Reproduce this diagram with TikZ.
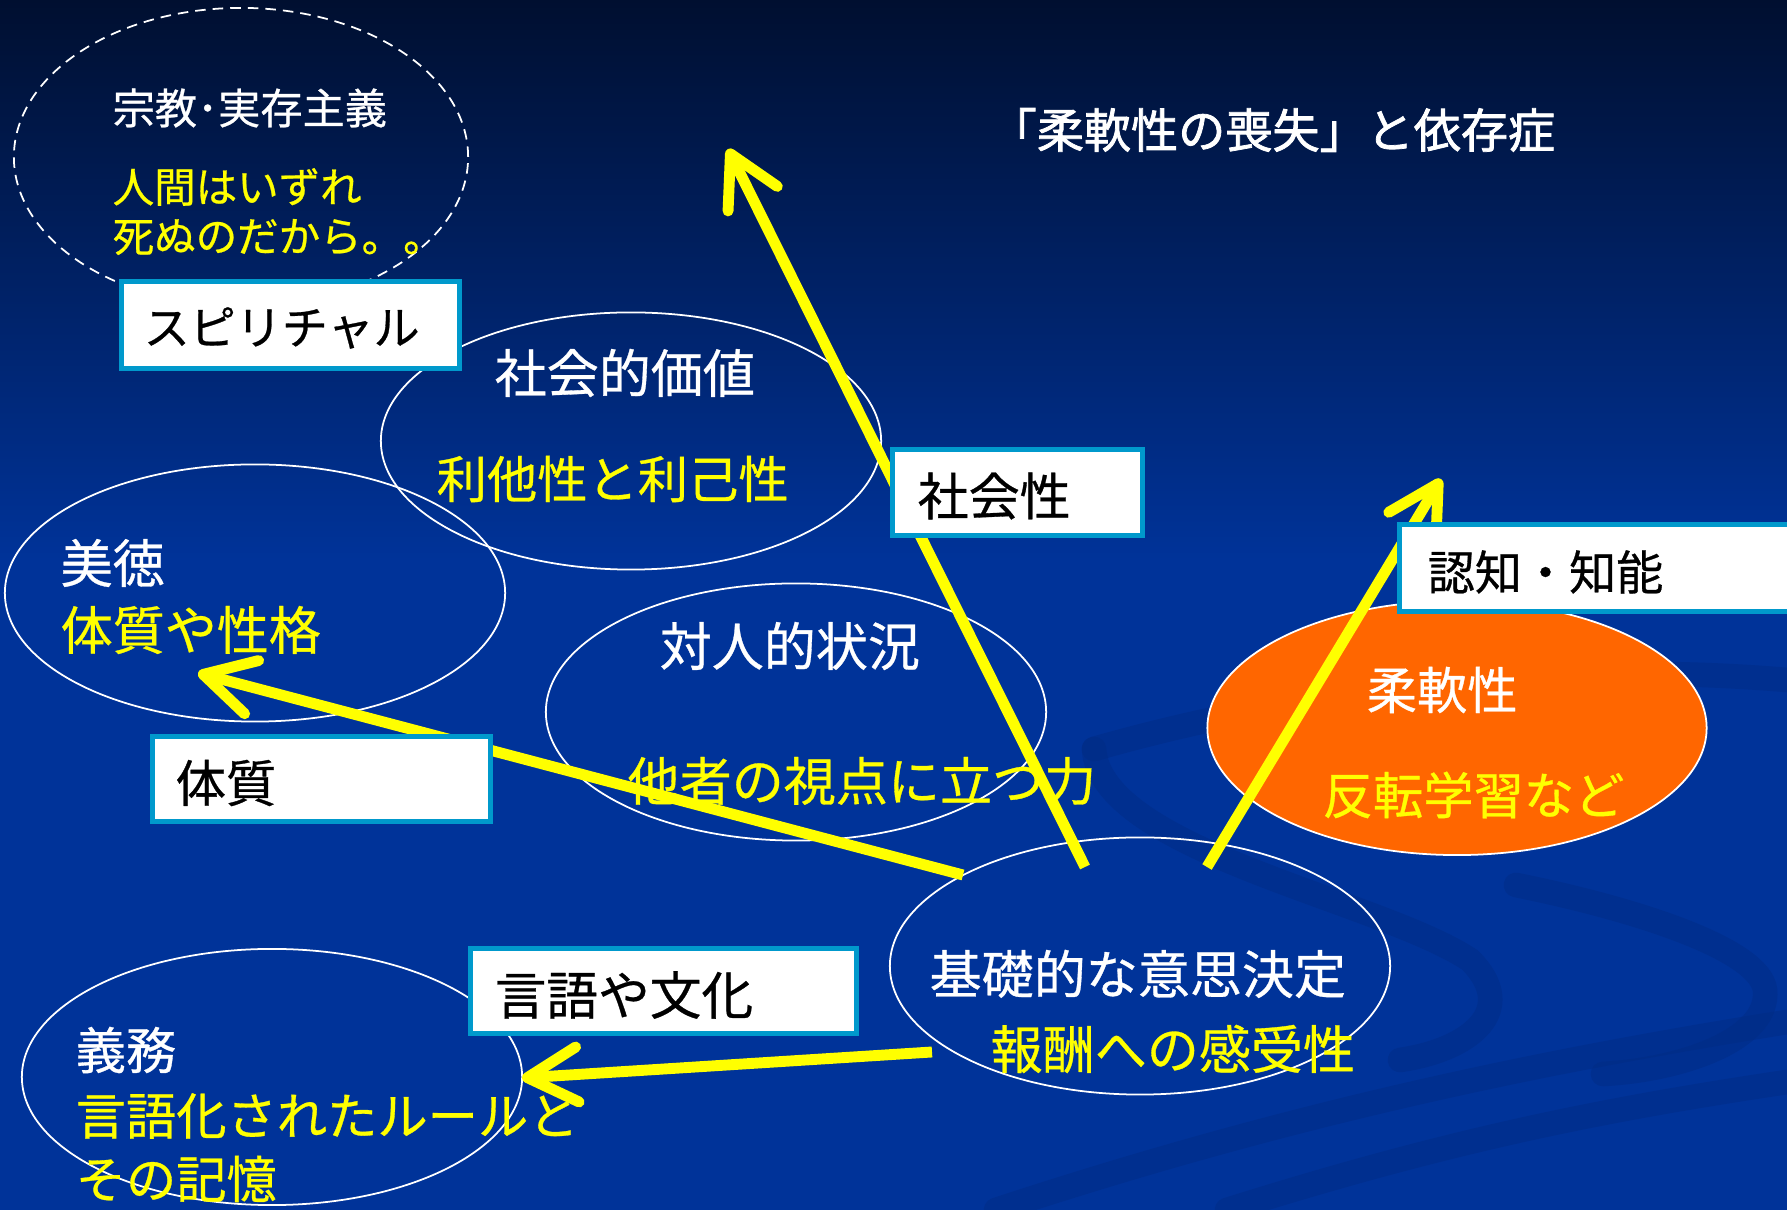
\documentclass[tikz,border=0pt]{standalone}
\usepackage{fontspec}
\setmainfont[FakeBold=0.6]{Noto Sans CJK JP}
\usetikzlibrary{arrows.meta,shapes.geometric}
\definecolor{bgtop}{HTML}{000F30}
\definecolor{bgmid}{HTML}{003399}
\definecolor{boxborder}{HTML}{0099CC}
\definecolor{yel}{HTML}{FFFF00}
\definecolor{orng}{HTML}{FF6600}
\definecolor{swooshc}{HTML}{002A80}
\tikzset{
  oval/.style={ellipse, draw=white, line width=0.5pt, minimum width=5cm, minimum height=2.57cm, inner sep=0pt},
  txt/.style={anchor=west, inner sep=0pt, font=\fontsize{14.8pt}{17pt}\selectfont},
  wtxt/.style={txt, text=white},
  ytxt/.style={txt, text=yel},
  labelbox/.style={rectangle, draw=boxborder, line width=1.4pt, fill=white, inner sep=0pt},
  boxtxt/.style={anchor=west, inner sep=0pt, text=black},
  yarrow/.style={draw=yel, line width=3.1pt, -{Straight Barb[length=0.5cm, width=0.55cm, round]}},
  swoosh/.style={draw=swooshc, line width=7pt, opacity=0.4, line cap=round}
}
\begin{document}
\begin{tikzpicture}[x=0.01cm, y=-0.01cm]
\useasboundingbox (0,0) rectangle (1787,1210);
% background
\fill[top color=bgtop, bottom color=bgmid] (0,0) rectangle (1787,560);
\fill[bgmid] (0,559) rectangle (1787,1210);
% decorative swooshes
\draw[swoosh] (1094,749) .. controls (1300,690) and (1550,660) .. (1787,680);
\draw[swoosh] (1094,749) .. controls (1100,850) and (1380,900) .. (1470,960) .. controls (1520,1010) and (1470,1050) .. (1400,1060);
\draw[swoosh] (1516,885) .. controls (1640,910) and (1760,950) .. (1765,990) .. controls (1770,1040) and (1680,1070) .. (1603,1074);
\draw[swoosh] (996,1210) .. controls (1300,1110) and (1550,1060) .. (1787,1022);
\draw[swoosh] (1227,1210) .. controls (1450,1140) and (1600,1110) .. (1787,1082);

% ellipses
\node[oval, dashed, dash pattern=on 3pt off 2pt, minimum width=4.54cm, minimum height=2.98cm] (spirit) at (241,157) {};
\node[oval] (social) at (631,441) {};
\node[oval] (virtue) at (255,593) {};
\node[oval] (inter) at (796,712) {};
\node[oval, fill=orng, minimum width=4.99cm, minimum height=2.54cm] (flex) at (1457,728) {};
\node[oval] (base) at (1140,966) {};
\node[oval, minimum height=2.56cm] (duty) at (272,1077) {};

% title
\node[wtxt, font=\fontsize{13.4pt}{16pt}\selectfont\addfontfeatures{FakeBold=1.6}] (title) at (989,130) {「柔軟性の喪失」と依存症};

% texts in ellipses
\node[wtxt, font=\fontsize{12pt}{14pt}\selectfont] (t1) at (112,108) {宗教･実存主義};
\node[ytxt, font=\fontsize{11.8pt}{14pt}\selectfont] (t2) at (112,187) {人間はいずれ};
\node[ytxt, font=\fontsize{11.8pt}{14pt}\selectfont] (t3) at (112,237) {死ぬのだから。。};
\node[wtxt] (t4) at (494,373) {社会的価値};
\node[ytxt, font=\fontsize{14.3pt}{17pt}\selectfont] (t5) at (436,479) {利他性と利己性};
\node[wtxt] (t6) at (60,563) {美徳};
\node[ytxt] (t7) at (60,630) {体質や性格};
\node[wtxt] (t8) at (659,646) {対人的状況};
\node[ytxt] (t9) at (627,781) {他者の視点に立つ力};
\node[wtxt, font=\fontsize{14.3pt}{17pt}\selectfont] (t10) at (1366,690) {柔軟性};
\node[ytxt, font=\fontsize{14.3pt}{17pt}\selectfont] (t11) at (1322,795) {反転学習など};
\node[wtxt] (t12) at (929,974) {基礎的な意思決定};
\node[ytxt] (t13) at (990,1049) {報酬への感受性};
\node[wtxt, font=\fontsize{14.3pt}{17pt}\selectfont] (t14) at (75,1050) {義務};
\node[ytxt, font=\fontsize{14.3pt}{17pt}\selectfont] (t15) at (75,1116) {言語化されたルールと};
\node[ytxt, font=\fontsize{14.3pt}{17pt}\selectfont] (t16) at (75,1179) {その記憶};

% arrows
\coordinate (sS) at (1085,867);
\coordinate (sT) at (728,149);
\coordinate (cS) at (1207,867);
\coordinate (cT) at (1441,479);
\coordinate (bS) at (963,875);
\coordinate (bT) at (198,673);
\coordinate (lS) at (932,1052);
\coordinate (lT) at (522,1078);
\draw[yarrow] (sS) -- (sT);
\draw[yarrow] (cS) -- (cT);
\draw[yarrow] (bS) -- (bT);
\draw[yarrow] (lS) -- (lT);

% label boxes
\node[labelbox, minimum width=3.38cm, minimum height=0.87cm] (spbox) at (290.5,325) {};
\node[boxtxt, font=\fontsize{13.1pt}{16pt}\selectfont] (spt) at (143,328) {スピリチャル};
\node[labelbox, minimum width=2.50cm, minimum height=0.86cm] (shbox) at (1017.5,492.5) {};
\node[boxtxt, font=\fontsize{14.5pt}{17pt}\selectfont] (sht) at (917,496) {社会性};
\node[labelbox, minimum width=3.38cm, minimum height=0.85cm] (tbox) at (321.5,779) {};
\node[boxtxt, font=\fontsize{14.3pt}{17pt}\selectfont] (tt) at (175,783) {体質};
\node[labelbox, minimum width=3.86cm, minimum height=0.85cm] (gbox) at (663.5,991) {};
\node[boxtxt, font=\fontsize{14.7pt}{17pt}\selectfont] (gt) at (494,995) {言語や文化};
\node[labelbox, minimum width=4.01cm, minimum height=0.87cm] (nbox) at (1600,568) {};
\node[boxtxt, font=\fontsize{13.4pt}{16pt}\selectfont] (nt) at (1427,572) {認知・知能};
\end{tikzpicture}
\end{document}
